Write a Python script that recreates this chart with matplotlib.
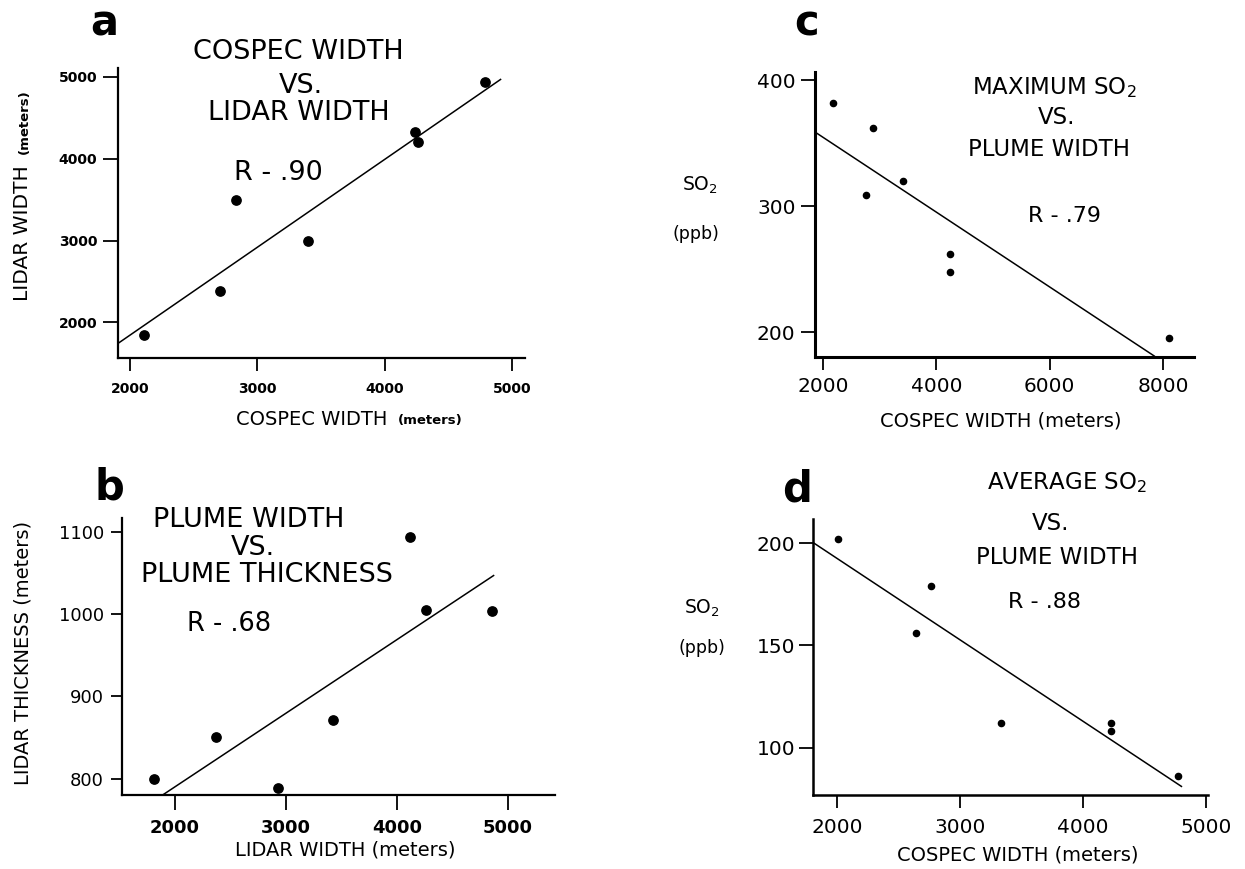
import numpy as np
import matplotlib.pyplot as plt

plt.rcParams['font.family'] = ['DejaVu Sans']
plt.rcParams['mathtext.default'] = 'regular'

# -----------------------------
# Panel a: COSPEC width vs LIDAR width
# -----------------------------
a_x = [2110, 2710, 2830, 3400, 4240, 4260, 4790]
a_y = [1840, 2380, 3500, 2990, 4330, 4200, 4940]
a_fit_x = [1900, 4910]
a_fit_y = [1735, 4970]
a_xticks = [2000, 3000, 4000, 5000]
a_yticks = [2000, 3000, 4000, 5000]

# -----------------------------
# Panel b: LIDAR width vs LIDAR thickness
# -----------------------------
b_x = [1810, 2370, 2930, 3420, 4115, 4260, 4855]
b_y = [800, 851, 788, 871, 1094, 1005, 1004]
b_fit_x = [1900, 4870]
b_fit_y = [781, 1047]
b_xticks = [2000, 3000, 4000, 5000]
b_yticks = [800, 900, 1000, 1100]

# -----------------------------
# Panel c: maximum SO2 vs COSPEC width
# -----------------------------
c_x = [2180, 2880, 2760, 3410, 4240, 4250, 8100]
c_y = [382, 362, 309, 320, 262, 248, 195]
c_fit_x = [1890, 7845]
c_fit_y = [358, 181]
c_xticks = [2000, 4000, 6000, 8000]
c_yticks = [200, 300, 400]

# -----------------------------
# Panel d: average SO2 vs COSPEC width
# -----------------------------
d_x = [2005, 2640, 2765, 3330, 4225, 4225, 4775]
d_y = [202, 156, 179, 112, 112, 108, 86]
d_fit_x = [1815, 4800]
d_fit_y = [200, 81]
d_xticks = [2000, 3000, 4000, 5000]
d_yticks = [100, 150, 200]

W, H = 1245, 869
fig = plt.figure(figsize=(W / 100, H / 100), dpi=100)


def px_axes(left, top, right, bottom):
    # axes box given in picture pixels
    return fig.add_axes([left / W, 1 - bottom / H, (right - left) / W, (bottom - top) / H])


def ftxt(x, y, s, **kw):
    kw.setdefault('ha', 'center')
    kw.setdefault('va', 'center')
    return fig.text(x / W, 1 - y / H, s, **kw)


def style(ax, xlim, ylim, xticks, yticks, xlen, ylen, xpad, ypad, xfs, yfs, xw, yw, lw=1.6):
    ax.set_xlim(*xlim)
    ax.set_ylim(*ylim)
    ax.set_xticks(xticks)
    ax.set_yticks(yticks)
    for s in ['top', 'right']:
        ax.spines[s].set_visible(False)
    for s in ['left', 'bottom']:
        ax.spines[s].set_linewidth(lw)
    ax.tick_params(axis='x', direction='out', length=xlen, width=1.3, pad=xpad, labelsize=xfs)
    ax.tick_params(axis='y', direction='out', length=ylen, width=1.3, pad=ypad, labelsize=yfs)
    for lab in ax.get_xticklabels():
        lab.set_fontweight(xw)
    for lab in ax.get_yticklabels():
        lab.set_fontweight(yw)


# ---- panel a ----
ax_a = px_axes(118, 68, 525, 358)
ax_a.scatter(a_x, a_y, s=45, color='k', zorder=3)
ax_a.plot(a_fit_x, a_fit_y, color='k', lw=1.1)
style(ax_a, (1906, 5102), (1563, 5110), a_xticks, a_yticks,
      9, 11, 8, 4, 10, 10, 'bold', 'bold')
ftxt(104, 24, 'a', fontsize=30, fontweight='bold')
ftxt(298, 52, 'COSPEC WIDTH', fontsize=19.5)
ftxt(301, 86, 'VS.', fontsize=19.5)
ftxt(299, 113, 'LIDAR WIDTH', fontsize=19.5)
ftxt(278, 173, 'R - .90', fontsize=19.5)
ftxt(312, 419, 'COSPEC WIDTH', fontsize=14)
ftxt(430, 421, '(meters)', fontsize=9.5, fontweight='bold')
ftxt(23, 233, 'LIDAR WIDTH', fontsize=14.5, rotation=90)
ftxt(24, 122, '(meters)', fontsize=9.5, fontweight='bold', rotation=90)

# ---- panel b ----
ax_b = px_axes(122, 518, 555, 795)
ax_b.scatter(b_x, b_y, s=45, color='k', zorder=3)
ax_b.plot(b_fit_x, b_fit_y, color='k', lw=1.1)
style(ax_b, (1523, 5423), (780, 1117), b_xticks, b_yticks,
      11, 8, 6, 5, 13, 13, 'bold', 'normal')
ftxt(109, 488, 'b', fontsize=30, fontweight='bold')
ftxt(249, 520, 'PLUME WIDTH', fontsize=19.5)
ftxt(253, 548, 'VS.', fontsize=19.5)
ftxt(267, 575, 'PLUME THICKNESS', fontsize=19.5)
ftxt(229, 624, 'R - .68', fontsize=18.5)
ftxt(345, 850, 'LIDAR WIDTH (meters)', fontsize=14)
ftxt(23, 653, 'LIDAR THICKNESS (meters)', fontsize=14, rotation=90)

# ---- panel c ----
ax_c = px_axes(815, 72, 1194, 357)
ax_c.scatter(c_x, c_y, s=20, color='k', zorder=3)
ax_c.plot(c_fit_x, c_fit_y, color='k', lw=1.1)
style(ax_c, (1859, 8547), (180.2, 406.6), c_xticks, c_yticks,
      9.5, 10, 5, 4, 14.5, 14.5, 'normal', 'normal', lw=2.2)
ftxt(807, 24, 'c', fontsize=30, fontweight='bold')
ftxt(1054, 88, 'MAXIMUM SO$_2$', fontsize=16.5)
ftxt(1057, 117, 'VS.', fontsize=16.5)
ftxt(1049, 150, 'PLUME WIDTH', fontsize=16.5)
ftxt(1064, 216, 'R - .79', fontsize=16)
ftxt(1001, 421, 'COSPEC WIDTH (meters)', fontsize=14)
ftxt(700, 185, 'SO$_2$', fontsize=13.5)
ftxt(696, 234, '(ppb)', fontsize=12.5)

# ---- panel d ----
ax_d = px_axes(813, 519, 1208, 795)
ax_d.scatter(d_x, d_y, s=20, color='k', zorder=3)
ax_d.plot(d_fit_x, d_fit_y, color='k', lw=1.1)
style(ax_d, (1805, 5016), (76.8, 211.9), d_xticks, d_yticks,
      9.5, 10, 7, 3, 14.5, 14.5, 'normal', 'normal', lw=1.8)
ftxt(797, 490, 'd', fontsize=30, fontweight='bold')
ftxt(1067, 483, 'AVERAGE SO$_2$', fontsize=16.5)
ftxt(1051, 523, 'VS.', fontsize=16.5)
ftxt(1057, 557, 'PLUME WIDTH', fontsize=16.5)
ftxt(1044, 602, 'R - .88', fontsize=16)
ftxt(1018, 855, 'COSPEC WIDTH (meters)', fontsize=14)
ftxt(702, 608, 'SO$_2$', fontsize=13.5)
ftxt(702, 648, '(ppb)', fontsize=12.5)

fig.savefig('out.png', dpi=100)
